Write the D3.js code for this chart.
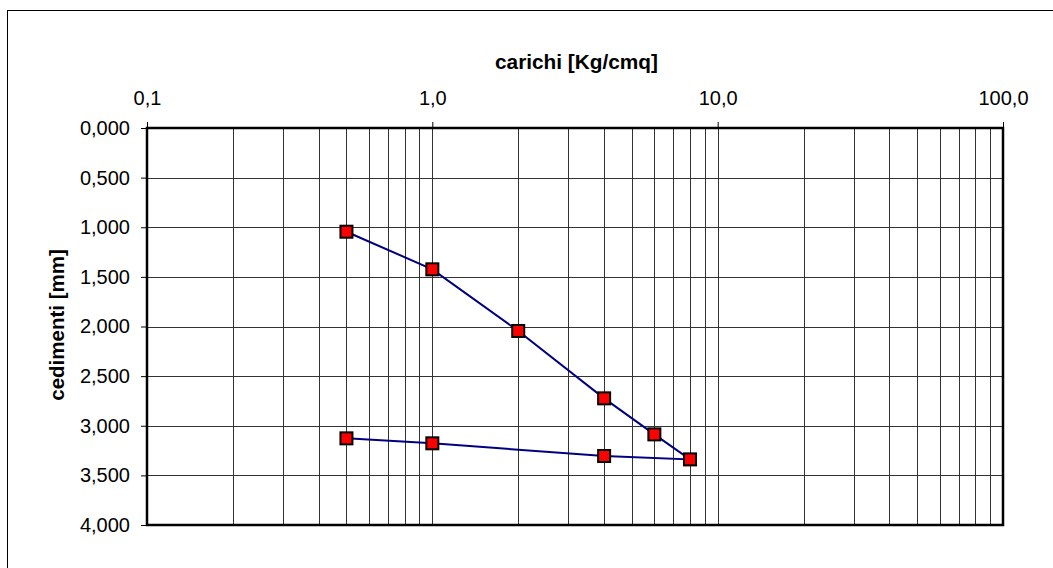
<!DOCTYPE html>
<html><head><meta charset="utf-8">
<script src="https://cdn.jsdelivr.net/npm/d3@7"></script>
<style>body{margin:0;background:#fff}svg{display:block}</style>
</head><body>
<script>
const carichi = [0.5, 1, 2, 4, 6, 8, 4, 1, 0.5];
const cedimenti = [1.045, 1.424, 2.045, 2.724, 3.087, 3.339, 3.305, 3.177, 3.127];
const xMajorTicks = [0.1, 1, 10, 100];
const xTickLabels = ["0,1", "1,0", "10,0", "100,0"];
const yTicks = [0, 0.5, 1, 1.5, 2, 2.5, 3, 3.5, 4];
const xTitle = "carichi [Kg/cmq]";
const yTitle = "cedimenti [mm]";

const W = 1053, H = 568;
const FONT = "Liberation Sans, Arial, sans-serif";
const m = {left: 147, top: 128, right: 1003, bottom: 525};
const svg = d3.select("body").append("svg").attr("width", W).attr("height", H);
svg.append("rect").attr("width", W).attr("height", H).attr("fill", "#fff");
// outer frame (right/bottom out of view)
svg.append("rect").attr("x", 7.5).attr("y", 10.5).attr("width", 1060).attr("height", 580)
  .attr("fill", "none").attr("stroke", "#000").attr("stroke-width", 1);

const x = d3.scaleLog().domain([0.1, 100]).range([m.left, m.right]);
const y = d3.scaleLinear().domain([0, 4]).range([m.top, m.bottom]);

// minor + major vertical grid
const xGrid = [];
for (let d = 0.1; d < 100; d *= 10) for (let k = 1; k <= 9; k++) xGrid.push(+(d * k).toPrecision(3));
const g = svg.append("g").attr("shape-rendering", "crispEdges");
g.selectAll("line.vx").data(xGrid.filter(v => v > 0.1 && v < 100)).enter().append("line")
  .attr("x1", d => Math.round(x(d)) + 0.5).attr("x2", d => Math.round(x(d)) + 0.5)
  .attr("y1", m.top).attr("y2", m.bottom).attr("stroke", "#333").attr("stroke-width", 1);
g.selectAll("line.hy").data(yTicks.filter(v => v > 0 && v < 4)).enter().append("line")
  .attr("x1", m.left).attr("x2", m.right)
  .attr("y1", d => Math.round(y(d)) + 0.5).attr("y2", d => Math.round(y(d)) + 0.5)
  .attr("stroke", "#333").attr("stroke-width", 1);

// axes
const yAxis = d3.axisLeft(y).tickValues(yTicks).tickSize(6).tickPadding(11)
  .tickFormat(d => d3.format(".3f")(d).replace(".", ","));
const ya = svg.append("g").attr("transform", `translate(${m.left},0)`).call(yAxis);
const xAxis = d3.axisTop(x).tickValues(xMajorTicks).tickSize(6).tickPadding(17)
  .tickFormat((d, i) => xTickLabels[i]);
const xa = svg.append("g").attr("transform", `translate(0,${m.top})`).call(xAxis);
[ya, xa].forEach(a => {
  a.attr("font-size", null).attr("font-family", null);
  a.select(".domain").remove();
  a.selectAll("line").attr("stroke", "#000");
  a.selectAll("text").style("font-family", FONT)
    .style("font-size", "20px").attr("fill", "#000");
});
xa.selectAll("text").attr("dy", "0");

// plot border
svg.append("rect").attr("x", m.left).attr("y", m.top)
  .attr("width", m.right - m.left).attr("height", m.bottom - m.top)
  .attr("fill", "none").attr("stroke", "#000").attr("stroke-width", 2.5);

// titles
svg.append("text").attr("x", 576.5).attr("y", 69).attr("text-anchor", "middle")
  .style("font-family", FONT).style("font-size", "20.8px")
  .attr("font-weight", "bold").text(xTitle);
svg.append("text").attr("transform", "translate(64,325) rotate(-90)").attr("text-anchor", "middle")
  .style("font-family", FONT).style("font-size", "20.5px")
  .attr("font-weight", "bold").text(yTitle);

// data
const data = carichi.map((c, i) => ({c, s: cedimenti[i]}));
svg.append("path").datum(data)
  .attr("d", d3.line().x(d => x(d.c)).y(d => y(d.s)))
  .attr("fill", "none").attr("stroke", "#000080").attr("stroke-width", 2);
svg.selectAll("rect.pt").data(data).enter().append("rect")
  .attr("x", d => x(d.c) - 6).attr("y", d => y(d.s) - 6)
  .attr("width", 12).attr("height", 12)
  .attr("fill", "#ff0000").attr("stroke", "#000").attr("stroke-width", 2);
</script>
</body></html>
